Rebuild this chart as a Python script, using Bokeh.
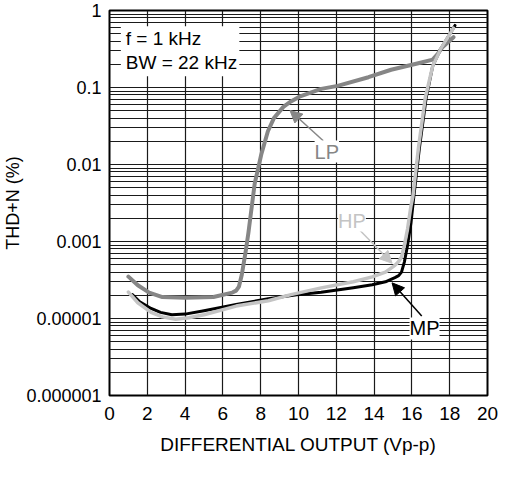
from bokeh.plotting import figure
from bokeh.models import (FixedTicker, Label, Arrow, NormalHead, BoxAnnotation)
from bokeh.embed import file_html
from bokeh.resources import INLINE

# ---- data -------------------------------------------------------------
x_ticks = [0, 2, 4, 6, 8, 10, 12, 14, 16, 18, 20]
y_ticks = [1e-5, 1e-4, 1e-3, 1e-2, 1e-1, 1.0]
y_tick_labels = ["0.000001", "0.00001", "0.001", "0.01", "0.1", "1"]

lp_x = [1.0, 1.5, 2.1, 2.8, 4.0, 5.5, 6.5, 6.7, 6.85, 7.0, 7.2, 7.35, 7.68,
        8.03, 8.38, 8.7, 9.2, 9.6, 10.05, 11.2, 12.07, 13.7, 14.9, 16.45,
        17.1, 17.35, 17.6, 18.2]
lp_y = [3.5e-4, 2.7e-4, 2.17e-4, 1.9e-4, 1.86e-4, 1.9e-4, 2.17e-4, 2.3e-4,
        2.6e-4, 3.7e-4, 7.3e-4, 1.3e-3, 5.6e-3, 0.0135, 0.027, 0.04, 0.056,
        0.066, 0.076, 0.096, 0.105, 0.136, 0.17, 0.21, 0.23, 0.27, 0.33,
        0.45]

mp_x = [1.21, 1.6, 2.2, 2.7, 3.3, 4.0, 5.0, 6.7, 8.4, 9.9, 11.2, 12.9, 13.9,
        14.6, 15.1, 15.3, 15.45, 15.6, 15.77, 15.95, 16.1, 16.4, 16.75, 17.1,
        17.5, 18.28]
mp_y = [2.04e-4, 1.65e-4, 1.35e-4, 1.2e-4, 1.12e-4, 1.14e-4, 1.26e-4,
        1.52e-4, 1.8e-4, 2.04e-4, 2.19e-4, 2.51e-4, 2.75e-4, 3.0e-4, 3.4e-4,
        3.6e-4, 4.0e-4, 5.4e-4, 8.9e-4, 1.74e-3, 3.8e-3, 0.0166, 0.072,
        0.19, 0.31, 0.64]

hp_x = [1.0, 1.5, 2.2, 2.8, 3.5, 4.2, 5.0, 6.7, 8.4, 9.6, 11.2, 12.9, 13.9,
        14.6, 15.1, 15.3, 15.45, 15.6, 15.77, 15.95, 16.05, 16.35, 16.7,
        17.1, 17.5, 18.2]
hp_y = [2.2e-4, 1.6e-4, 1.2e-4, 1.05e-4, 9.8e-5, 1.02e-4, 1.12e-4, 1.45e-4,
        1.7e-4, 2.04e-4, 2.5e-4, 3.0e-4, 3.47e-4, 4.0e-4, 4.9e-4, 5.5e-4,
        6.3e-4, 8.9e-4, 1.45e-3, 2.9e-3, 3.8e-3, 0.0166, 0.072, 0.19, 0.31,
        0.59]

# ---- figure -----------------------------------------------------------
FONT = "Liberation Sans"

p = figure(width=498, height=460, x_range=(0, 20), y_range=(1e-5, 1),
           y_axis_type="log", output_backend="svg", toolbar_location=None,
           min_border_left=104, min_border_right=11, min_border_top=10,
           min_border_bottom=65)
p.background_fill_color = "white"
p.border_fill_color = "white"
p.outline_line_color = "black"
p.outline_line_width = 2

minor = [k * d for d in y_ticks[:-1] for k in range(2, 10)]
p.yaxis.ticker = FixedTicker(ticks=y_ticks, minor_ticks=minor)
p.xaxis.ticker = FixedTicker(ticks=x_ticks, minor_ticks=[])
p.yaxis.major_label_overrides = {t: l for t, l in zip(y_ticks, y_tick_labels)}

for ax in (p.xaxis[0], p.yaxis[0]):
    ax.axis_line_color = None
    ax.major_tick_line_color = None
    ax.minor_tick_line_color = None
    ax.major_tick_out = 0
    ax.major_tick_in = 0
    ax.minor_tick_out = 0
    ax.minor_tick_in = 0
    ax.major_label_text_font = FONT
    ax.major_label_text_color = "black"
    ax.axis_label_text_font = FONT
    ax.axis_label_text_font_style = "normal"
    ax.axis_label_text_color = "black"

p.xaxis.major_label_text_font_size = "19px"
p.xaxis.axis_label_text_font_size = "19px"
p.yaxis.major_label_text_font_size = "18px"
p.yaxis.axis_label_text_font_size = "18px"

p.xaxis.axis_label = "DIFFERENTIAL OUTPUT (Vp-p)"
p.yaxis.axis_label = "THD+N (%)"
p.xaxis.major_label_standoff = 11
p.xaxis.axis_label_standoff = 11
p.yaxis.major_label_standoff = 8
p.yaxis.axis_label_standoff = 0

p.xgrid.grid_line_color = "#1a1a1a"
p.xgrid.grid_line_width = 1.2
p.ygrid.grid_line_color = "#1a1a1a"
p.ygrid.grid_line_width = 1.2
p.ygrid.minor_grid_line_color = "#1a1a1a"
p.ygrid.minor_grid_line_width = 1.2

# ---- curves -----------------------------------------------------------
p.line(lp_x, lp_y, line_color="#868686", line_width=4, line_join="round", line_cap="round")
p.line(mp_x, mp_y, line_color="black", line_width=3, line_join="round", line_cap="round")
p.line(hp_x, hp_y, line_color="#c4c4c4", line_width=3.5, line_join="round", line_cap="round")

# ---- annotations ------------------------------------------------------
p.add_layout(BoxAnnotation(left=0.6, right=6.87, top=0.626, bottom=0.1405,
                           fill_color="white", fill_alpha=1, line_color=None))
p.add_layout(Label(x=0.86, y=0.428, text="f = 1 kHz", text_align="left",
                   text_baseline="middle", text_font=FONT, text_font_size="19px",
                   text_color="black"))
p.add_layout(Label(x=0.86, y=0.212, text="BW = 22 kHz", text_align="left",
                   text_baseline="middle", text_font=FONT, text_font_size="19px",
                   text_color="black"))

def arrow(x0, y0, x1, y1, color):
    p.add_layout(Arrow(end=NormalHead(size=12, fill_color=color, line_color=color),
                       x_start=x0, y_start=y0, x_end=x1, y_end=y1,
                       line_color=color, line_width=1.5))

arrow(11.31, 10 ** -1.692, 9.55, 10 ** -1.298, "#868686")
arrow(13.18, 10 ** -2.837, 14.95, 10 ** -3.282, "#c4c4c4")
arrow(16.52, 10 ** -3.969, 14.95, 10 ** -3.537, "black")

for tx, ty, tt, tc in [(11.5, 0.0147, "LP", "#868686"),
                       (12.83, 1.87e-3, "HP", "#c4c4c4"),
                       (16.67, 7.44e-5, "MP", "black")]:
    p.add_layout(Label(x=tx, y=ty, text=tt, text_align="center",
                       text_baseline="middle", text_font=FONT,
                       text_font_size="20px", text_color=tc,
                       background_fill_color="white", background_fill_alpha=1))

open("out.html", "w").write(file_html(p, INLINE))
